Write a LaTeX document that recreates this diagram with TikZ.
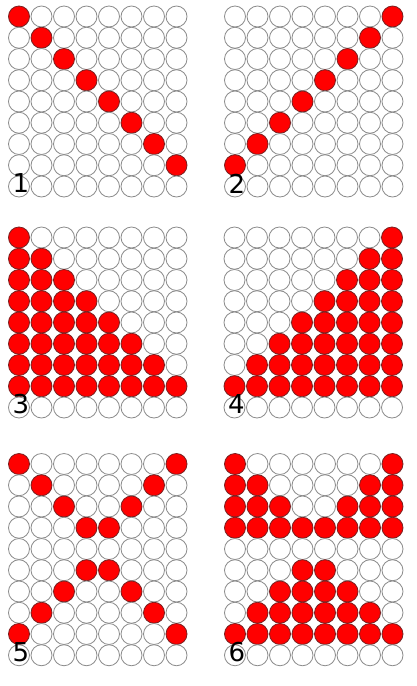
\documentclass[tikz,border=0pt]{standalone}
\usepackage{fontspec}
\setmainfont{DejaVu Sans}
\usepackage{xcolor}
\usetikzlibrary{positioning}

\definecolor{dotred}{HTML}{FF0000}
\definecolor{dotredline}{HTML}{7A2020}
\definecolor{dotline}{HTML}{8C8C8C}

% one grid of 8 columns: name, x, y, last row, condition on \r and \c for red
\newcommand\dotgrid[5]{%
  \foreach \r in {0,...,#4}{%
    \foreach \c in {0,...,7}{%
      \pgfmathtruncatemacro\isred{(#5) ? 1 : 0}%
      \ifnum\isred=1 \def\dotfill{dotred}\def\dotdraw{dotredline}%
      \else \def\dotfill{white}\def\dotdraw{dotline}\fi
      \node[dot, fill=\dotfill, draw=\dotdraw] (#1-\r-\c) at ({#2+22.5*\c},{#3+21.25*\r}) {};
    }%
  }%
}

\begin{document}
\begin{tikzpicture}[
  x=1pt, y=-1pt,
  dot/.style={circle, minimum size=21pt, inner sep=0pt, line width=0.8pt},
  numlbl/.style={font=\fontsize{26}{26}\selectfont, text=black, inner sep=0pt, xshift=2pt, yshift=3pt}
]
\useasboundingbox (0,0) rectangle (417,686);

% ── 1: main diagonal ──
\dotgrid{g1}{19}{16.5}{8}{\c==\r}
\node[numlbl] (lbl1) at (g1-8-0) {1};

% ── 2: anti-diagonal ──
\dotgrid{g2}{235}{16.5}{8}{\c==7-\r && \r<8}
\node[numlbl] (lbl2) at (g2-8-0) {2};

% ── 3: lower-left triangle ──
\dotgrid{g3}{19}{237.5}{8}{\c<=\r && \r<8}
\node[numlbl] (lbl3) at (g3-8-0) {3};

% ── 4: lower-right triangle ──
\dotgrid{g4}{234.5}{237.5}{8}{\c>=7-\r && \r<8}
\node[numlbl] (lbl4) at (g4-8-0) {4};

% ── 5: two crosses ──
\dotgrid{g5}{19}{464}{9}{(\r<4 && (\c==\r || \c==7-\r)) || (\r>4 && \r<9 && (\c==\r-1 || \c==8-\r))}
\node[numlbl] (lbl5) at (g5-9-0) {5};

% ── 6: filled halves ──
\dotgrid{g6}{235}{464}{9}{(\r<4 && (\c<=\r || \c>=7-\r)) || (\r>4 && \r<9 && \c>=8-\r && \c<=\r-1)}
\node[numlbl] (lbl6) at (g6-9-0) {6};

\end{tikzpicture}
\end{document}
